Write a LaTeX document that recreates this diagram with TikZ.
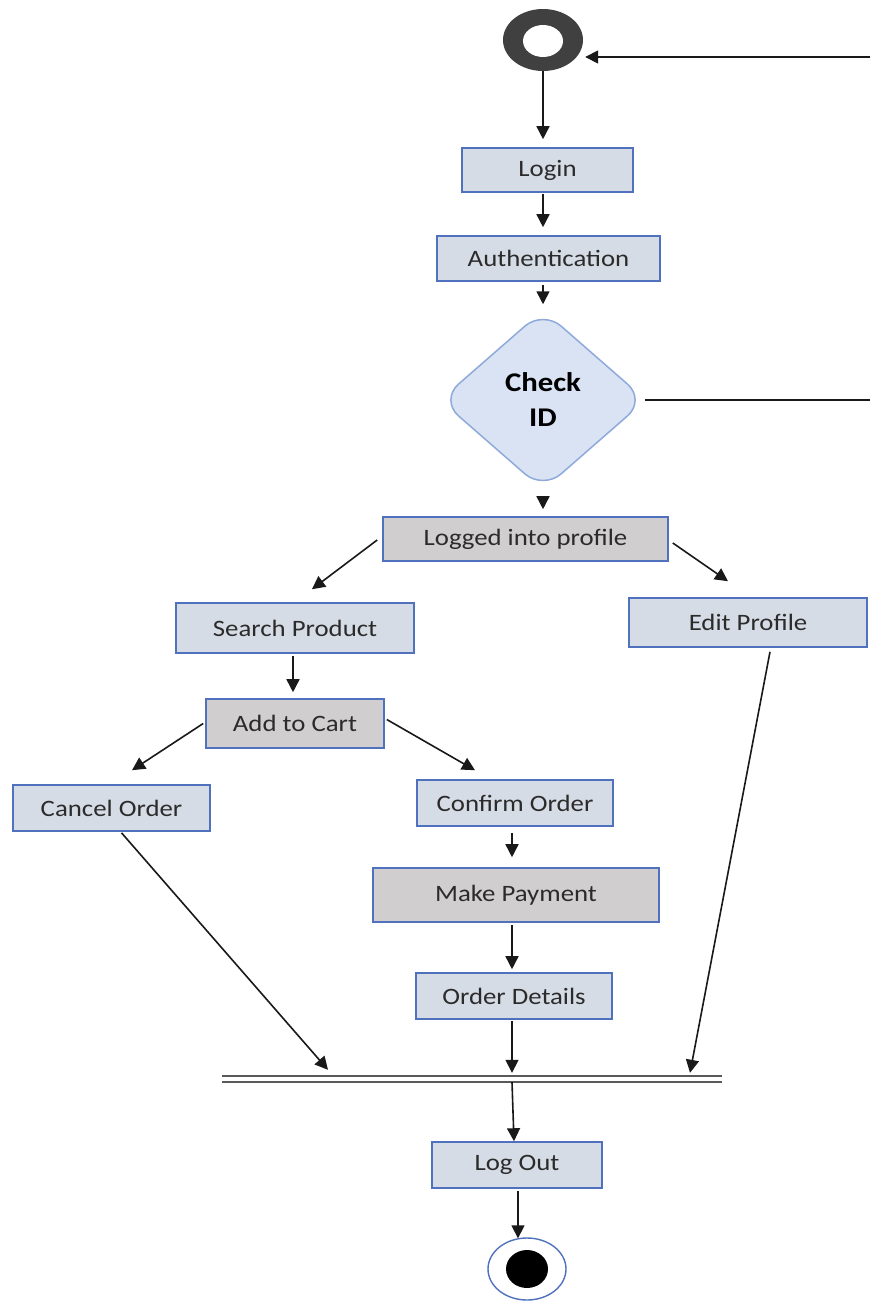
\documentclass[tikz,border=0pt]{standalone}
\usepackage{fontspec}
\setmainfont{Carlito}[FakeStretch=1.14]
\usetikzlibrary{arrows.meta,shapes.geometric,calc}
\definecolor{boxfill}{HTML}{D6DCE5}
\definecolor{boxline}{HTML}{4F71BE}
\definecolor{grayfill}{HTML}{D0CECE}
\definecolor{diafill}{HTML}{DAE3F3}
\definecolor{dialine}{HTML}{8EAADB}
\definecolor{txt}{HTML}{2B2B2B}
\definecolor{ringcol}{HTML}{404040}
\definecolor{barcol}{HTML}{595959}
\tikzset{
  act/.style={draw=boxline, fill=boxfill, line width=1.6pt, inner sep=0pt,
    text=txt, font=\fontsize{23.5}{27}\selectfont},
  actgray/.style={act, fill=grayfill},
  conn/.style={draw=black!90, line width=1.6pt, -{Triangle[length=13pt,width=13pt]}},
  plain/.style={draw=black!90, line width=1.6pt},
}
\begin{document}
\begin{tikzpicture}[x=1pt,y=1pt]
\useasboundingbox (0,0) rectangle (870,-1301);
% start
\node[ellipse, fill=ringcol, minimum width=80, minimum height=62, inner sep=0] (start) at (543,-40) {};
\fill[white] (543,-41) ellipse [x radius=20, y radius=16];
% boxes
\node[act, minimum width=171, minimum height=44] (login) at (547.5,-170) {Login};
\node[act, minimum width=223, minimum height=45] (auth) at (548.5,-258.5) {Authentication};
\node[diamond, aspect=1.15, draw=dialine, fill=diafill, line width=1.5pt, rounded corners=24pt,
  minimum width=206, minimum height=180, inner sep=0, align=center,
  font=\fontsize{27}{35}\bfseries\selectfont] (check) at (543,-400) {Check\\ID};
\node[actgray, minimum width=285, minimum height=44] (logged) at (525.5,-539) {Logged into profile};
\node[act, minimum width=238, minimum height=50] (search) at (295,-628) {Search Product};
\node[act, minimum width=238, minimum height=49] (edit) at (748,-622.5) {Edit Profile};
\node[actgray, minimum width=178, minimum height=49] (cart) at (295,-723.5) {Add to Cart};
\node[act, minimum width=197, minimum height=46] (cancel) at (111.5,-808) {Cancel Order};
\node[act, minimum width=196, minimum height=46] (confirm) at (515,-803) {Confirm Order};
\node[actgray, minimum width=286, minimum height=54] (pay) at (516,-895) {Make Payment};
\node[act, minimum width=196, minimum height=46] (details) at (514,-996) {Order Details};
\node[inner sep=0, minimum width=500, minimum height=6] (bar) at (472,-1079) {};
\draw[barcol, line width=2.4pt] (bar.north west) -- (bar.north east);
\draw[barcol, line width=2.4pt] (bar.south west) -- (bar.south east);
\node[act, minimum width=170, minimum height=46] (logout) at (517,-1165) {Log Out};
% end
\node[ellipse, draw=boxline, line width=1.4pt, fill=white, minimum width=78, minimum height=62, inner sep=0] (end) at (527,-1269) {};
\fill[black] (end.center) ellipse [x radius=21, y radius=19];
% loop coordinates
\coordinate (loopA) at (870,-400);
\coordinate (loopB) at (870,-57);
% connectors
\draw[conn] (start.south) -- ($(start.south |- login.north)+(0,8)$);
\draw[conn] ($(login.south -| start.south)+(0,-1)$) -- ($(auth.north -| start.south)+(0,8)$);
\draw[conn] ($(auth.south -| start.south)+(0,-3)$) -- ($(check.north)+(0,5)$);
\draw[conn] ($(check.south)+(0,-7)$) -- ($(logged.north -| check.south)+(0,7)$);
\draw[plain] ($(check.east)+(-2,0)$) -- (loopA);
\draw[conn] (loopB) -- ($(start.east)+(2,-17)$);
\draw[conn] ($(logged.west)+(-5,-1)$) -- ($(search.north)+(17,13)$);
\draw[conn] ($(logged.east)+(4,-4)$) -- ($(edit.north)+(-20,16)$);
\draw[conn] ($(search.south)+(-2,-2)$) -- ($(cart.north)+(-2,6)$);
\draw[conn] ($(cart.west)+(-2,0)$) -- ($(cancel.north)+(20.5,14)$);
\draw[conn] ($(cart.east)+(2,4)$) -- ($(confirm.north)+(-40,9)$);
\draw[conn] ($(confirm.south)+(-3,-6)$) -- ($(pay.north)+(-4,10)$);
\draw[conn] ($(pay.south)+(-4,-2)$) -- ($(details.north)+(-2,3)$);
\draw[conn] ($(details.south)+(-2,-1)$) -- ($(bar.north -| details.south)+(-2,3)$);
\draw[conn] ($(cancel.south)+(10,-1)$) -- ($(bar.north)+(-144,6)$);
\draw[conn] ($(edit.south)+(22,-4)$) -- ($(bar.north)+(218,3)$);
\draw[conn] ($(bar.south)+(40,0)$) -- ($(logout.north)+(-3,0)$);
\draw[conn] ($(logout.south)+(1,-2)$) -- ($(end.north)+(-9,-1)$);
\end{tikzpicture}
\end{document}
